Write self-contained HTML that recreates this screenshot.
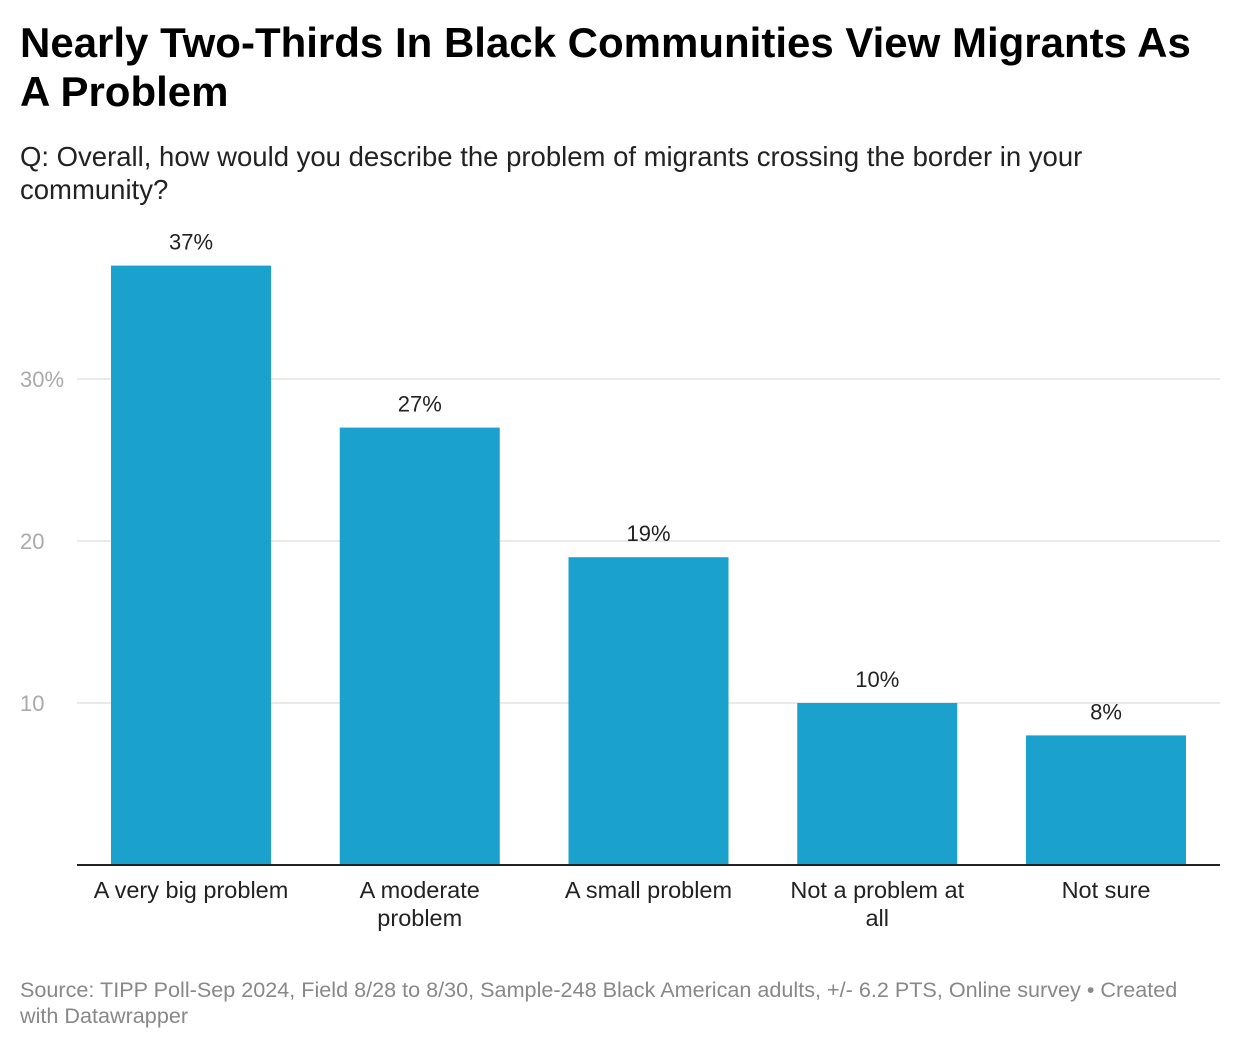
<!DOCTYPE html>
<html><head><meta charset="utf-8"><style>
body{margin:0;width:1240px;height:1050px;background:#fff;font-family:"Liberation Sans",Arial,sans-serif;position:relative;overflow:hidden}
#title{position:absolute;left:20px;top:18px;width:1200px;font-size:42px;font-weight:bold;line-height:49px;color:#000}
#sub{position:absolute;left:20px;top:140px;width:1110px;font-size:27.5px;line-height:33px;color:#222}
#foot{position:absolute;left:20px;top:977px;width:1180px;font-size:21.6px;line-height:26px;color:#888}
svg{position:absolute;left:0;top:0}
</style></head><body>
<div id="title">Nearly Two-Thirds In Black Communities View Migrants As A Problem</div>
<div id="sub">Q: Overall, how would you describe the problem of migrants crossing the border in your community?</div>
<svg id="chart" width="1240" height="1050"></svg>
<div id="foot">Source: TIPP Poll-Sep 2024, Field 8/28 to 8/30, Sample-248 Black American adults, +/- 6.2 PTS, Online survey • Created with Datawrapper</div>
<script>
const categories=[["A very big problem"],["A moderate","problem"],["A small problem"],["Not a problem at","all"],["Not sure"]];
const values=[37,27,19,10,8];
const ticks=[10,20,30];
const tickLabels=["10","20","30%"];
const svg=document.getElementById('chart');
const NS='http://www.w3.org/2000/svg';
const y0=865,k=16.2;
const y=v=>y0-v*k;
const x=i=>111+i*228.75;
const bw=160;
function mk(t,a){const e=document.createElementNS(NS,t);for(const q in a)e.setAttribute(q,a[q]);svg.appendChild(e);return e;}
ticks.forEach((t,i)=>{
 const g=mk('line',{x1:77,x2:1220,y1:y(t),y2:y(t),stroke:'#e2e2e2','stroke-width':1.5});
 
 
 const l=mk('text',{x:20,y:y(t)+8,'font-size':22,fill:'#aaa'});l.textContent=tickLabels[i];
 
 
});
values.forEach((v,i)=>{
 const r=mk('rect',{x:x(i),y:y(v),width:bw,height:v*k,fill:'#1aa1ce'});
 
 
 const t=mk('text',{x:x(i)+bw/2,y:y(v)-16,'font-size':22,fill:'#222','text-anchor':'middle'});t.textContent=v+'%';
 
 
 categories[i].forEach((s,j)=>{
  const c=mk('text',{x:x(i)+bw/2,y:898+j*28,'font-size':23.5,fill:'#222','text-anchor':'middle'});c.textContent=s;
  
  
 });
});
const ax=mk('line',{x1:77,x2:1220,y1:y0,y2:y0,stroke:'#222','stroke-width':2});


</script>
</body></html>
